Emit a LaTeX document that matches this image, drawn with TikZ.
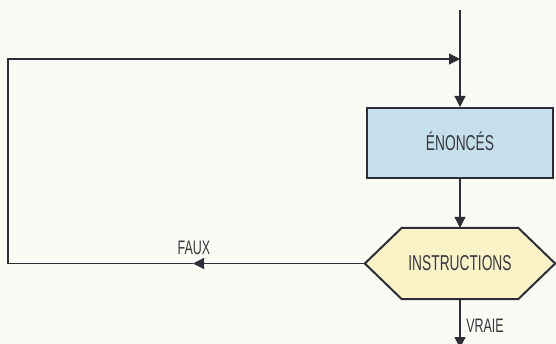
\documentclass[tikz,border=0pt]{standalone}
\usepackage{fontspec}
\setmainfont{Liberation Sans}[FakeStretch=0.64]
\usetikzlibrary{arrows.meta,backgrounds}
\definecolor{bgc}{RGB}{251,251,246}
\definecolor{boxblue}{RGB}{198,223,236}
\definecolor{hexyel}{RGB}{250,243,200}
\definecolor{ink}{RGB}{45,45,55}
\definecolor{txt}{RGB}{55,55,62}
\tikzset{
  conn/.style={draw=ink, line width=1.2pt},
  arr/.style={conn, -{Triangle[length=11pt,width=11pt]}},
  stepbox/.style={draw=ink, line width=2pt, fill=boxblue, minimum width=186pt, minimum height=70pt, inner sep=0pt, text height=15pt, text depth=0pt, font=\fontsize{21.5}{23}\selectfont, text=txt},
  hexbox/.style={minimum width=190pt, minimum height=71pt, inner sep=0pt, text height=15pt, text depth=0pt, font=\fontsize{21.5}{23}\selectfont, text=txt},
  lab/.style={font=\fontsize{19.5}{21}\selectfont, text=txt, inner sep=0pt, anchor=base}
}
\begin{document}
\begin{tikzpicture}[x=1pt,y=-1pt]
\useasboundingbox (0,0) rectangle (556,344);
\begin{pgfonlayer}{background}
\fill[bgc] (0,0) rectangle (556,344);
\end{pgfonlayer}
\node[stepbox] (box) at (460,143) {ÉNONCÉS};
\node[hexbox] (hex) at (460,263.5) {INSTRUCTIONS};
\begin{pgfonlayer}{background}
\draw[draw=ink, line width=2pt, fill=hexyel, line join=miter]
  (hex.west) -- ([xshift=37pt]hex.north west) -- ([xshift=-37pt]hex.north east)
  -- (hex.east) -- ([xshift=-37pt]hex.south east) -- ([xshift=37pt]hex.south west) -- cycle;
\end{pgfonlayer}
\coordinate (top) at (460,10);
\coordinate (j) at (460,59);
\coordinate (fa) at (193,263.5);
\coordinate (ll) at (8,263.5);
\coordinate (bot) at (460,348);
\draw[arr] (top) -- (box.north);
\draw[arr] (box.south) -- (hex.north);
\draw[arr] (hex.west) -- (fa);
\draw[arr] (fa) -- (ll) |- (j);
\draw[arr] (hex.south) -- (bot);
\node[lab] (faux) at (194,255) {FAUX};
\node[lab] (vraie) at (485,332) {VRAIE};
\end{tikzpicture}
\end{document}
